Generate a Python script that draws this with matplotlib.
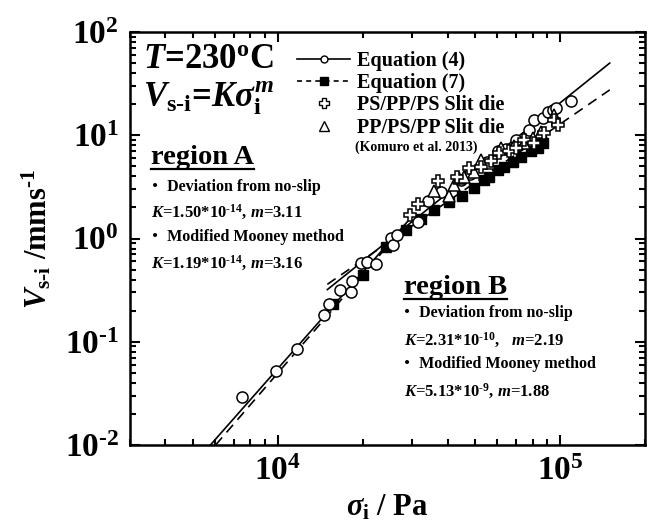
import numpy as np
import matplotlib
matplotlib.use('Agg')
import matplotlib.pyplot as plt
from matplotlib.lines import Line2D
from matplotlib.ticker import FuncFormatter

plt.rcParams['font.family'] = ['Liberation Serif', 'Noto Sans CJK JP']
plt.rcParams['font.weight'] = 'bold'
plt.rcParams['axes.labelweight'] = 'bold'
plt.rcParams['mathtext.fontset'] = 'custom'
plt.rcParams['mathtext.rm'] = 'Liberation Serif:bold'
plt.rcParams['mathtext.it'] = 'Liberation Serif:italic:bold'
plt.rcParams['mathtext.bf'] = 'Liberation Serif:bold'

HY = '\u2010'  # plain hyphen inside mathtext

# Equation (4) - open circles
eq4_x = [7500, 9840, 11700, 14600, 15200, 16600, 18200, 18300, 19700, 20800, 22300,
         25200, 25700, 26400, 31300, 34000, 38000, 44500, 48000, 55000, 60200, 64400,
         70000, 77700, 80900, 87000, 90600, 94400, 96800, 109000]
eq4_y = [0.029, 0.052, 0.086, 0.18, 0.23, 0.32, 0.30, 0.39, 0.58, 0.59, 0.57,
         1.02, 0.87, 1.09, 1.43, 2.3, 2.8, 3.7, 4.2, 5.5, 7.0, 7.3,
         9.0, 11.2, 14.0, 14.6, 16.7, 17.5, 18.3, 21.4]
# Equation (7) - filled squares
eq7_x = [15700, 20000, 24200, 28400, 32100, 35700, 40400, 44900, 49500, 53700,
         56000, 60200, 63300, 68000, 73000, 78800, 83600, 87000]
eq7_y = [0.234, 0.44, 0.82, 1.2, 1.53, 1.87, 2.24, 2.6, 3.05, 3.66,
         3.9, 4.57, 4.9, 5.5, 6.2, 7.1, 7.6, 8.4]
# PS/PP/PS slit die
ps_x = [29500, 31300, 37000, 43000, 47500, 52500, 57000, 60800, 65900, 70000,
        74500, 81000, 88000, 95300, 98400]
ps_y = [1.7, 2.15, 3.6, 3.9, 4.8, 4.9, 5.6, 6.7, 7.1, 7.6,
        8.9, 8.5, 10.5, 14.0, 12.5]
# PP/PS/PP slit die
pp_x = [35700, 40400, 42100, 43900, 45700, 49500, 52500, 56000, 61800, 68700,
        74500, 80000, 85700, 95300]
pp_y = [2.9, 2.6, 3.27, 3.83, 3.9, 4.38, 5.7, 5.35, 7.6, 7.8,
        8.4, 9.5, 10.7, 15.6]

# fitted lines (end points)
fitA_solid_x = [5780, 30000]
fitA_solid_y = [0.01, 1.65]
fitA_dash_x = [6030, 25000]
fitA_dash_y = [0.01, 0.9]
fitB_solid_x = [15000, 150000]
fitB_solid_y = [0.32, 50]
fitB_dash_x = [15000, 150000]
fitB_dash_y = [0.36, 27.5]

W, H = 650, 531
fig = plt.figure(figsize=(W / 100, H / 100), dpi=100)
ax = fig.add_axes([130 / W, 1 - 445 / H, 515 / W, 413 / H])

dash = (0, (6, 4))
ax.plot(fitA_solid_x, fitA_solid_y, 'k-', lw=1.2)
ax.plot(fitB_solid_x, fitB_solid_y, 'k-', lw=1.2)
ax.plot(fitA_dash_x, fitA_dash_y, color='k', ls=dash, lw=1.2)
ax.plot(fitB_dash_x, fitB_dash_y, color='k', ls=dash, lw=1.2)

ax.plot(eq7_x, eq7_y, 's', ms=7.5, mfc='k', mec='k', ls='none')
ax.plot(eq4_x, eq4_y, 'o', ms=8, mfc='white', mec='k', mew=1.1, ls='none')
ax.plot(pp_x, pp_y, '^', ms=8.5, mfc='white', mec='k', mew=1.1, ls='none')
ax.plot(ps_x, ps_y, 'P', ms=9, mfc='white', mec='k', mew=1.1, ls='none')

ax.set_xscale('log')
ax.set_yscale('log')
ax.set_xlim(3000, 200000)
ax.set_ylim(0.01, 100)


def pow10(v, pos):
    e = int(round(np.log10(v)))
    return r'$\mathrm{10^{' + str(e).replace('-', HY) + '}}$'


ax.xaxis.set_major_formatter(FuncFormatter(pow10))
ax.yaxis.set_major_formatter(FuncFormatter(pow10))

for s in ax.spines.values():
    s.set_linewidth(1.8)
ax.tick_params(which='both', direction='in', top=True, right=True, width=1.5)
ax.tick_params(which='major', length=7, labelsize=24, pad=8)
ax.tick_params(which='minor', length=4.5)

ax.set_xlabel(r'$\sigma_{\mathrm{i}}$ / Pa', fontsize=22, labelpad=4)
ax.set_ylabel(r'$V_{\mathrm{s' + HY + r'i}}$ /mms$^{\mathrm{' + HY + r'1}}$',
              fontsize=22, labelpad=8)

# legend
handles = [
    Line2D([], [], color='k', lw=1.2, marker='o', ms=5, mfc='white', mec='k'),
    Line2D([], [], color='k', lw=1.2, ls=(0, (3, 2.5)), marker='s', ms=6, mfc='k', mec='k'),
    Line2D([], [], ls='none', marker='P', ms=7, mfc='white', mec='k', mew=1),
    Line2D([], [], ls='none', marker='^', ms=6.5, mfc='white', mec='k', mew=1),
]
labels = ['Equation (4)', 'Equation (7)', 'PS/PP/PS Slit die', 'PP/PS/PP Slit die']
ax.legend(handles, labels, loc='upper left', bbox_to_anchor=(0.325, 0.955),
          frameon=False, fontsize=14.5, handlelength=2.6, handletextpad=0.35,
          labelspacing=0.12, borderpad=0, borderaxespad=0)


def ftext(px, py, s, size, **kw):
    return fig.text(px / W, 1 - py / H, s, fontsize=size, ha='left', va='center', **kw)


ftext(355, 147, '(Komuro et al. 2013)', 10)

ftext(143, 59, r'$T$=230$^{\mathrm{o}}$C', 25)
ftext(143, 98, r'$V_{\mathrm{s' + HY + r'i}}$=$K\sigma_{\mathrm{i}}^{m}$', 25)

regA = ftext(151, 158, 'region A', 20.5)
ftext(147, 187, '・ Deviation from no-slip', 11.5)
ftext(151, 212, r'$K$=1.50*10$^{\mathrm{' + HY + r'14}}$, $m$=3.11', 12)
ftext(147, 237, '・ Modified Mooney method', 11.5)
ftext(151, 263, r'$K$=1.19*10$^{\mathrm{' + HY + r'14}}$, $m$=3.16', 12)

regB = ftext(404, 288, 'region B', 20.5)
ftext(399, 313, '・ Deviation from no-slip', 11.5)
ftext(404, 340, r'$K$=2.31*10$^{\mathrm{' + HY + r'10}}$,   $m$=2.19', 12)
ftext(399, 364, '・ Modified Mooney method', 11.5)
ftext(404, 391, r'$K$=5.13*10$^{\mathrm{' + HY + r'9}}$, $m$=1.88', 12)

# underline the region headings
fig.canvas.draw()
r = fig.canvas.get_renderer()
for t in (regA, regB):
    bb = t.get_window_extent(r)
    y = bb.y0 + 2
    fig.add_artist(Line2D([bb.x0 / W, bb.x1 / W], [y / H, y / H], color='k', lw=1.6))

fig.savefig('out.png', dpi=100)
